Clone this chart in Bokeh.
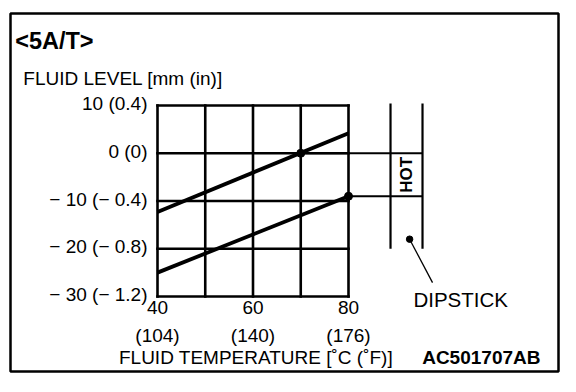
from bokeh.plotting import figure
from bokeh.models import Range1d
from bokeh.core.properties import value
from bokeh.embed import file_html
from bokeh.resources import INLINE

# ---- data ----
temp_ticks = [40, 50, 60, 70, 80]
labeled_temps = [40, 60, 80]
temp_labels_c = ["40", "60", "80"]
temp_labels_f = ["(104)", "(140)", "(176)"]
level_ticks = [10, 0, -10, -20, -30]
level_labels = ["10 (0.4)", "0 (0)", "\u2212 10 (\u2212 0.4)", "\u2212 20 (\u2212 0.8)", "\u2212 30 (\u2212 1.2)"]

line_temp = [40, 80]
upper_level = [-12.3, 4.2]
lower_level = [-25.0, -9.0]

hot_temp = [70, 80]
hot_level = [0.0, -9.0]

FONT = value("Liberation Sans")

# ---- layout (px per unit = 4.775 both axes) ----
scale = 4.775
frame_w, frame_h = 548, 358
x0 = 40 - 147 / scale
y1 = 10 + 92 / scale

p = figure(frame_width=frame_w, frame_height=frame_h,
           x_range=Range1d(x0, x0 + frame_w / scale),
           y_range=Range1d(y1 - frame_h / scale, y1),
           output_backend="svg", toolbar_location=None,
           x_axis_location=None, y_axis_location=None,
           min_border_left=10, min_border_right=10, min_border_top=13, min_border_bottom=12,
           outline_line_color="black", outline_line_width=2.5,
           background_fill_color="white", border_fill_color="white")
p.xgrid.visible = False
p.ygrid.visible = False

tmin, tmax = min(temp_ticks), max(temp_ticks)
lmin, lmax = min(level_ticks), max(level_ticks)

# grid
p.segment(x0=temp_ticks, y0=[lmin] * len(temp_ticks), x1=temp_ticks, y1=[lmax] * len(temp_ticks),
          line_color="black", line_width=2.6, line_cap="square")
p.segment(x0=[tmin] * len(level_ticks), y0=level_ticks, x1=[tmax] * len(level_ticks), y1=level_ticks,
          line_color="black", line_width=2.6, line_cap="square")

# dipstick
dip_left, dip_right = 88.8, 95.5
dip_top, dip_bottom = 10.4, -20.0
p.segment(x0=[dip_left, dip_right], y0=[dip_top, dip_top], x1=[dip_left, dip_right], y1=[dip_bottom, dip_bottom],
          line_color="black", line_width=2.2)
p.segment(x0=hot_temp, y0=hot_level, x1=[dip_right] * len(hot_temp), y1=hot_level,
          line_color="black", line_width=2.2)

# data lines
p.line(line_temp, upper_level, line_color="black", line_width=3.8)
p.line(line_temp, lower_level, line_color="black", line_width=3.8)
p.scatter(hot_temp, hot_level, size=8, color="black")

# dipstick dot and leader
p.scatter([92.8], [-18.0], size=6.5, color="black")
p.line([92.8, 97.6], [-18.0, -27.1], line_color="black", line_width=1.3)

p.text([(dip_left + dip_right) / 2], [sum(hot_level) / 2], text=["HOT"], angle=1.5708,
       text_font=FONT, text_font_style="bold", text_font_size="17px",
       text_align="center", text_baseline="middle", text_color="black")

# tick labels
p.text([tmin] * len(level_ticks), level_ticks, text=level_labels, x_offset=-10, y_offset=-2,
       text_font=FONT, text_font_size="19px", text_align="right", text_baseline="middle", text_color="black")
p.text(labeled_temps, [lmin] * len(labeled_temps), text=temp_labels_c, y_offset=4,
       text_font=FONT, text_font_size="19px", text_align="center", text_baseline="top", text_color="black")
p.text(labeled_temps, [lmin] * len(labeled_temps), text=temp_labels_f, y_offset=28,
       text_font=FONT, text_font_size="19px", text_align="center", text_baseline="top", text_color="black")

# titles
p.text([(tmin + tmax) / 2], [lmin], text=["FLUID TEMPERATURE [\u02daC (\u02daF)]"], x_offset=3, y_offset=61,
       text_font=FONT, text_font_size="19px", text_align="center", text_baseline="middle", text_color="black")
p.text([11.9], [15.6], text=["FLUID LEVEL [mm (in)]"],
       text_font=FONT, text_font_size="19px", text_align="left", text_baseline="middle", text_color="black")
p.text([10.2], [23.6], text=["<5A/T>"],
       text_font=FONT, text_font_style="bold", text_font_size="23.5px", text_align="left", text_baseline="middle",
       text_color="black")
p.text([93.6], [-30.7], text=["DIPSTICK"],
       text_font=FONT, text_font_size="20.5px", text_align="left", text_baseline="middle", text_color="black")
p.text([120.2], [lmin], text=["AC501707AB"], y_offset=61,
       text_font=FONT, text_font_style="bold", text_font_size="19px", text_align="right", text_baseline="middle",
       text_color="black")

open("out.html", "w").write(file_html(p, INLINE))
